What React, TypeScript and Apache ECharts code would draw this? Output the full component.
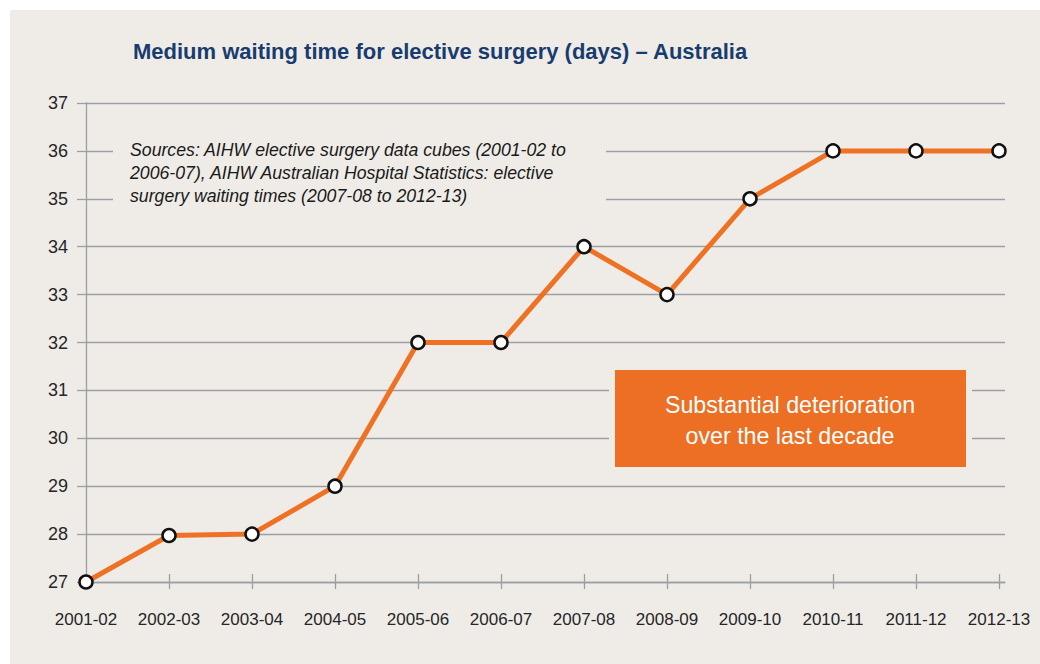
import React, { useEffect, useRef } from "react";
import * as echarts from "echarts";

const categories = ["2001-02", "2002-03", "2003-04", "2004-05", "2005-06", "2006-07", "2007-08", "2008-09", "2009-10", "2010-11", "2011-12", "2012-13"];
const waitingDays = [27, 27.97, 28, 29, 32, 32, 34, 33, 35, 36, 36, 36];
const yMin = 27;
const yMax = 37;
const titleText = "Medium waiting time for elective surgery (days) \u2013 Australia";
const sourceText = "Sources: AIHW elective surgery data cubes (2001-02 to\n2006-07), AIHW Australian Hospital Statistics: elective\nsurgery waiting times (2007-08 to 2012-13)";
const calloutText = "Substantial deterioration\nover the last decade";

const BG = "#efece8";
const GRID = "#9c9ea2";
const ORANGE = "#ee7124";
const FONT = "'Liberation Sans Narrow', 'Liberation Sans', Arial, sans-serif";

export default function App() {
  const ref = useRef<HTMLDivElement>(null);
  useEffect(() => {
    if (!ref.current) return;
    const chart = echarts.init(ref.current, null, { renderer: "svg" });
    chart.setOption({
      animation: false,
      backgroundColor: "transparent",
      textStyle: { fontFamily: FONT },
      title: {
        text: titleText,
        left: 128,
        top: 35,
        textStyle: { fontFamily: FONT, fontSize: 22, fontWeight: "bold", color: "#183c6e" },
      },
      grid: [
        { left: 86, right: 35, top: 103, bottom: 82 },
        { left: 86, right: 41, top: 103, bottom: 82 },
      ],
      xAxis: [
        {
          type: "value", gridIndex: 0, min: 0, max: 1,
          axisLine: { show: true, lineStyle: { color: GRID, width: 1.3 } },
          axisTick: { show: false }, axisLabel: { show: false }, splitLine: { show: false },
        },
        {
          type: "category", gridIndex: 1, data: categories, boundaryGap: false, offset: -8,
          axisLine: { show: false },
          axisTick: { show: true, length: 15, interval: 0, lineStyle: { color: GRID, width: 1.3 } },
          axisLabel: { fontFamily: FONT, fontSize: 17, color: "#262626", margin: 37, interval: 0 },
          splitLine: { show: false },
        },
      ],
      yAxis: [
        {
          type: "value", gridIndex: 0, min: yMin, max: yMax, interval: 1,
          axisLine: { show: true, lineStyle: { color: GRID, width: 1.3 } },
          axisTick: { show: true, length: 9, lineStyle: { color: GRID, width: 1.3 } },
          axisLabel: { fontFamily: FONT, fontSize: 18, color: "#262626", margin: 18 },
          splitLine: { show: true, lineStyle: { color: GRID, width: 1.3 } },
        },
        { type: "value", gridIndex: 1, min: yMin, max: yMax, interval: 1, show: false },
      ],
      series: [
        {
          type: "line", xAxisIndex: 1, yAxisIndex: 1, data: waitingDays,
          lineStyle: { color: ORANGE, width: 5 },
          symbol: "circle", symbolSize: 13,
          itemStyle: { color: "#ffffff", borderColor: "#111111", borderWidth: 2.5 },
          z: 3,
        },
      ],
      graphic: [
        { type: "rect", z: 1, shape: { x: 113, y: 136, width: 493, height: 72 }, style: { fill: BG } },
        {
          type: "text", z: 2, x: 130, y: 138,
          style: { text: sourceText, fontFamily: FONT, fontSize: 17.7, fontStyle: "italic", lineHeight: 23, fill: "#1a1a1a" },
        },
        { type: "rect", z: 1, shape: { x: 609, y: 364, width: 363, height: 109 }, style: { fill: BG } },
        { type: "rect", z: 2, shape: { x: 615, y: 370, width: 351, height: 97 }, style: { fill: "#ec6f24" } },
        {
          type: "text", z: 3, x: 790, y: 420,
          style: { text: calloutText, fontFamily: FONT, fontSize: 23.2, lineHeight: 31, fill: "#ffffff", align: "center", verticalAlign: "middle" },
        },
      ],
    });
    return () => chart.dispose();
  }, []);
  return (
    <div style={{ position: "fixed", left: 0, top: 0, width: 1040, height: 664, background: "#ffffff" }}>
      <div style={{ position: "absolute", left: 10, top: 10, width: 1030, height: 654, background: BG }} />
      <div ref={ref} style={{ position: "absolute", left: 0, top: 0, width: 1040, height: 664 }} />
    </div>
  );
}
